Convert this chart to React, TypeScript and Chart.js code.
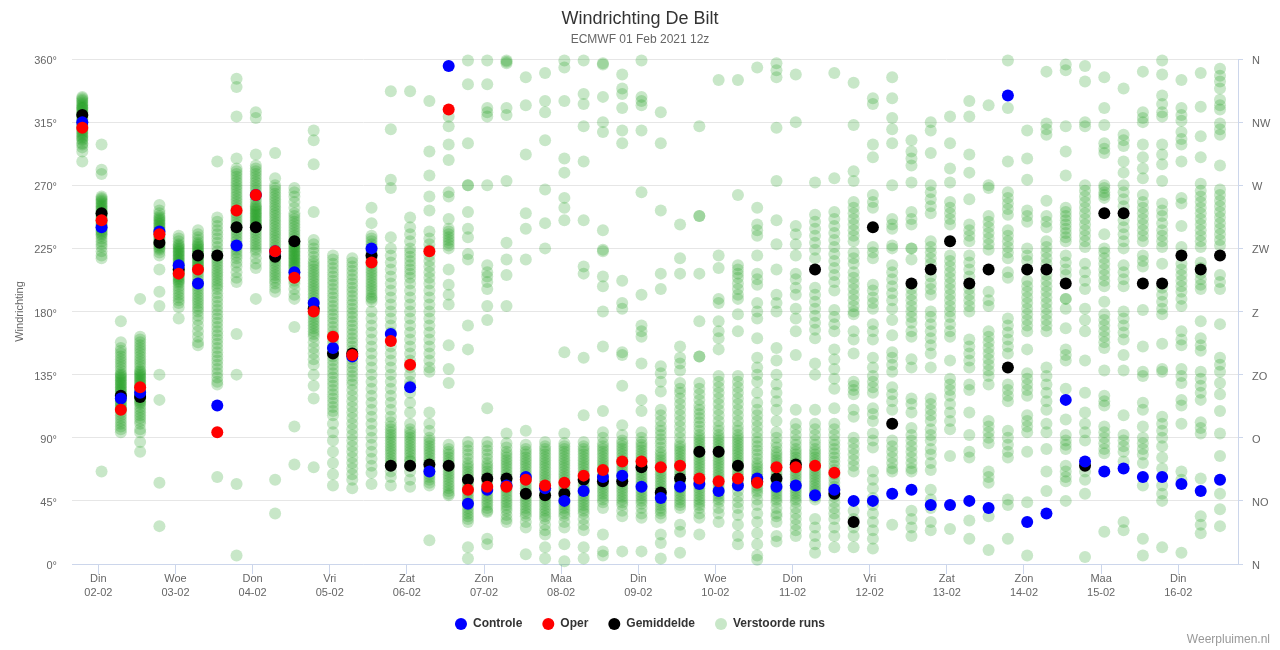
import React, { useEffect, useRef } from 'react';
import { Chart, registerables } from 'chart.js';

Chart.register(...registerables);

const FONT = '"Liberation Sans", Arial, Helvetica, sans-serif';

// time of each forecast step, hours after 02-02 00:00 (local)
const STEP_HOURS = [
  -5, 1, 7, 13, 19, 25, 31, 37, 43, 49, 55, 61, 67, 73, 79, 85, 91, 97, 103, 109,
  115, 121, 127, 133, 139, 145, 151, 157, 163, 169, 175, 181, 187, 193, 199, 205, 211, 217, 223, 229,
  235, 241, 247, 253, 259, 265, 271, 277, 283, 289, 295, 301, 307, 313, 319, 325, 331, 337, 343, 349,
];

const TICK_HOURS = [0, 24, 48, 72, 96, 120, 144, 168, 192, 216, 240, 264, 288, 312, 336];
const TICK_DAYS = ['Din', 'Woe', 'Don', 'Vri', 'Zat', 'Zon', 'Maa', 'Din', 'Woe', 'Don', 'Vri', 'Zat', 'Zon', 'Maa', 'Din'];
const TICK_DATES = ['02-02', '03-02', '04-02', '05-02', '06-02', '07-02', '08-02', '09-02', '10-02', '11-02', '12-02', '13-02', '14-02', '15-02', '16-02'];

const Y_TICKS = [0, 45, 90, 135, 180, 225, 270, 315, 360];
const COMPASS = ['N', 'NO', 'O', 'ZO', 'Z', 'ZW', 'W', 'NW', 'N'];

const CONTROLE = [
  315, 240, 118, 122, 237, 213, 200, 113, 227, 263, 223, 208, 186, 154, 148, 225, 164, 126, 66, 355,
  43, 53, 56, 62, 54, 45, 52, 62, 63, 55, 47, 55, 57, 52, 56, 61, 55, 56, 49, 53,
  45, 45, 50, 53, 42, 42, 45, 40, 334, 30, 36, 117, 73, 66, 68, 62, 62, 57, 52, 60,
];

const OPER = [
  311, 245, 110, 126, 235, 207, 210, 94, 252, 263, 223, 204, 180, 162, 149, 215, 159, 142, 223, 324,
  53, 55, 55, 60, 56, 58, 63, 67, 73, 73, 69, 70, 61, 59, 61, 58, 69, 69, 70, 65,
];

const GEMIDDELDE = [
  320, 250, 120, 119, 229, 210, 220, 220, 240, 240, 219, 230, 182, 150, 150, 220, 70, 70, 71, 70,
  60, 61, 61, 50, 49, 50, 60, 59, 59, 69, 51, 61, 80, 80, 70, 59, 61, 71, 210, 50,
  30, 240, 100, 200, 210, 230, 200, 210, 140, 210, 210, 200, 70, 250, 250, 200, 200, 220, 210, 220,
];

// perturbed members (Verstoorde runs), one list per forecast step
const VERSTOORDE = [
  [333, 332, 331, 330, 329, 328, 327, 326, 325, 325, 324, 323, 322, 321, 320, 320, 319, 318, 317, 316, 315, 314, 313, 312, 311, 310, 309, 308, 307, 306, 305, 304, 303, 302, 300, 299, 297, 294, 287],
  [299, 281, 278, 262, 261, 260, 259, 258, 257, 256, 255, 254, 253, 252, 251, 250, 249, 248, 247, 246, 245, 244, 243, 242, 241, 240, 239, 238, 237, 236, 235, 234, 232, 230, 228, 226, 223, 220, 218, 66],
  [173, 158, 154, 152, 150, 148, 146, 144, 142, 140, 138, 136, 135, 134, 133, 132, 131, 130, 129, 128, 127, 126, 125, 124, 123, 122, 121, 120, 119, 118, 117, 116, 115, 114, 113, 112, 111, 110, 108, 106, 104, 102, 100, 98, 96, 94],
  [189, 162, 160, 158, 156, 154, 152, 150, 148, 146, 144, 142, 140, 138, 137, 136, 135, 134, 133, 132, 131, 130, 129, 128, 127, 126, 125, 124, 123, 122, 121, 120, 119, 118, 117, 116, 115, 114, 112, 110, 108, 106, 104, 102, 100, 96, 94, 87, 80],
  [256, 252, 250, 248, 247, 246, 245, 244, 243, 242, 241, 240, 239, 238, 237, 236, 235, 234, 233, 232, 231, 230, 229, 228, 227, 226, 225, 224, 222, 220, 210, 194, 184, 135, 117, 58, 27],
  [234, 232, 230, 228, 227, 226, 225, 224, 223, 222, 221, 220, 219, 218, 217, 216, 215, 214, 213, 212, 211, 210, 209, 208, 207, 206, 205, 204, 203, 202, 201, 200, 198, 196, 194, 192, 190, 188, 186, 183, 175],
  [238, 235, 233, 231, 229, 228, 227, 226, 225, 224, 223, 222, 221, 220, 219, 218, 217, 216, 215, 214, 213, 212, 211, 210, 208, 206, 204, 202, 200, 198, 196, 194, 192, 190, 188, 186, 184, 182, 180, 177, 174, 170, 166, 162, 158, 156],
  [287, 247, 244, 241, 238, 235, 232, 229, 226, 223, 220, 218, 216, 214, 212, 210, 208, 206, 204, 202, 200, 198, 196, 193, 190, 187, 184, 181, 178, 175, 172, 169, 166, 163, 160, 157, 154, 151, 148, 145, 142, 139, 136, 133, 130, 128, 62],
  [346, 340, 319, 289, 282, 280, 278, 276, 274, 272, 270, 268, 266, 264, 262, 260, 258, 256, 254, 252, 250, 248, 246, 244, 242, 240, 238, 236, 234, 232, 230, 228, 226, 224, 222, 220, 218, 215, 212, 208, 204, 201, 164, 135, 57, 6],
  [322, 318, 292, 284, 282, 280, 278, 276, 274, 272, 270, 268, 266, 264, 262, 260, 258, 256, 255, 254, 253, 252, 251, 250, 249, 248, 247, 246, 245, 244, 243, 242, 241, 240, 238, 236, 234, 232, 230, 228, 226, 224, 222, 218, 214, 211, 189],
  [293, 275, 270, 268, 266, 264, 262, 260, 258, 256, 254, 252, 250, 248, 246, 244, 242, 240, 238, 236, 234, 232, 230, 228, 226, 224, 222, 220, 218, 216, 214, 212, 210, 208, 206, 204, 202, 200, 197, 194, 60, 36],
  [268, 265, 262, 258, 254, 250, 248, 246, 244, 242, 240, 238, 236, 234, 232, 230, 229, 228, 227, 226, 225, 224, 223, 222, 221, 220, 219, 218, 217, 216, 215, 214, 213, 212, 211, 210, 208, 206, 204, 202, 200, 196, 192, 189, 169, 98, 71],
  [309, 302, 285, 251, 231, 228, 225, 222, 219, 216, 214, 212, 210, 208, 206, 204, 202, 200, 198, 196, 194, 192, 190, 188, 186, 184, 182, 180, 178, 176, 174, 172, 170, 168, 166, 164, 162, 158, 154, 150, 146, 142, 135, 127, 118, 69],
  [220, 217, 214, 211, 208, 205, 202, 199, 196, 193, 190, 187, 184, 181, 178, 175, 172, 169, 166, 163, 160, 157, 154, 151, 148, 145, 142, 139, 136, 133, 130, 127, 124, 121, 118, 115, 112, 109, 106, 100, 94, 88, 80, 72, 64, 56],
  [218, 215, 212, 209, 206, 203, 200, 197, 194, 191, 188, 185, 182, 179, 176, 173, 170, 167, 164, 161, 158, 155, 152, 149, 146, 143, 140, 137, 134, 131, 128, 124, 120, 116, 112, 108, 104, 100, 96, 92, 88, 84, 80, 76, 72, 68, 64, 60, 54],
  [254, 243, 234, 232, 230, 228, 226, 224, 222, 220, 218, 216, 214, 212, 210, 208, 206, 204, 202, 200, 198, 196, 194, 192, 190, 189, 187, 180, 175, 170, 165, 160, 155, 150, 145, 140, 135, 130, 125, 120, 115, 110, 105, 100, 95, 90, 85, 80, 75, 70, 65, 57],
  [337, 310, 274, 268, 233, 225, 220, 215, 210, 205, 200, 195, 190, 185, 180, 175, 170, 165, 160, 155, 150, 145, 140, 135, 130, 125, 120, 115, 110, 105, 101, 98, 96, 94, 92, 90, 88, 86, 84, 82, 80, 78, 76, 74, 72, 70, 66, 62, 56],
  [337, 247, 240, 235, 230, 225, 222, 219, 216, 213, 210, 207, 204, 200, 195, 190, 185, 180, 175, 170, 165, 160, 155, 150, 145, 140, 135, 130, 127, 122, 115, 108, 100, 96, 94, 92, 90, 88, 86, 84, 82, 80, 78, 76, 74, 73, 70, 66, 60, 55],
  [330, 294, 277, 262, 252, 237, 232, 228, 224, 220, 216, 212, 208, 204, 200, 195, 190, 185, 180, 175, 170, 165, 160, 155, 150, 145, 140, 137, 108, 100, 95, 90, 88, 86, 84, 82, 80, 78, 76, 74, 72, 70, 68, 66, 64, 62, 60, 58, 56, 17],
  [319, 312, 299, 288, 265, 262, 246, 239, 237, 235, 233, 231, 229, 227, 225, 210, 199, 192, 185, 156, 139, 129, 85, 82, 80, 78, 76, 74, 72, 70, 68, 66, 64, 62, 60, 58, 56, 54, 52, 50, 49],
  [359, 342, 300, 270, 270, 251, 239, 233, 221, 217, 170, 153, 87, 84, 81, 78, 75, 72, 70, 68, 66, 64, 62, 60, 58, 56, 54, 52, 50, 48, 46, 44, 42, 40, 38, 36, 34, 32, 30, 12, 4],
  [359, 342, 325, 322, 319, 270, 213, 208, 205, 201, 196, 184, 174, 111, 87, 84, 81, 78, 75, 72, 70, 68, 66, 64, 62, 60, 58, 56, 54, 52, 50, 48, 46, 44, 42, 40, 38, 37, 18, 14],
  [359, 358, 357, 325, 320, 273, 229, 217, 206, 184, 93, 86, 83, 80, 78, 76, 74, 72, 70, 68, 66, 64, 62, 60, 58, 56, 54, 52, 50, 48, 46, 44, 42, 40, 38, 35, 32, 30],
  [347, 327, 292, 250, 239, 217, 95, 85, 82, 80, 78, 76, 74, 72, 70, 68, 66, 64, 62, 60, 58, 56, 54, 52, 50, 48, 46, 44, 42, 40, 38, 36, 34, 30, 26, 7],
  [350, 330, 322, 302, 267, 243, 225, 87, 84, 82, 80, 78, 76, 74, 72, 70, 68, 66, 64, 62, 60, 58, 56, 54, 52, 50, 48, 46, 44, 42, 40, 38, 36, 34, 32, 28, 24, 21, 12, 4],
  [359, 354, 330, 289, 279, 261, 254, 245, 151, 93, 86, 84, 82, 80, 78, 76, 74, 72, 70, 68, 66, 64, 62, 60, 58, 56, 54, 52, 50, 48, 46, 44, 42, 40, 38, 36, 34, 30, 26, 14, 2],
  [359, 335, 328, 312, 287, 245, 212, 207, 147, 106, 87, 84, 82, 80, 78, 76, 74, 72, 70, 68, 66, 64, 62, 60, 58, 56, 54, 52, 50, 48, 46, 44, 42, 40, 38, 36, 32, 28, 24, 12, 4],
  [357, 356, 333, 315, 308, 238, 224, 223, 205, 198, 180, 155, 109, 94, 90, 86, 84, 82, 80, 78, 76, 74, 72, 70, 68, 66, 64, 62, 60, 58, 56, 54, 52, 50, 48, 46, 44, 40, 21, 9, 6],
  [349, 339, 335, 325, 309, 300, 202, 186, 182, 151, 149, 127, 99, 92, 88, 86, 84, 82, 80, 78, 76, 74, 72, 70, 68, 66, 64, 62, 60, 58, 56, 54, 52, 50, 48, 46, 44, 42, 38, 34, 9],
  [359, 333, 330, 327, 309, 265, 192, 170, 166, 162, 143, 117, 109, 94, 90, 87, 85, 83, 81, 79, 77, 75, 73, 71, 69, 67, 65, 63, 61, 59, 57, 55, 53, 51, 49, 47, 45, 43, 40, 36, 33, 9],
  [322, 300, 252, 207, 196, 141, 136, 130, 123, 110, 106, 102, 98, 95, 92, 89, 86, 83, 80, 78, 76, 74, 72, 70, 68, 66, 64, 62, 60, 58, 56, 54, 52, 50, 48, 46, 44, 42, 40, 38, 36, 33, 21, 15, 4],
  [242, 218, 207, 155, 147, 143, 138, 129, 125, 122, 118, 114, 110, 106, 102, 98, 94, 90, 86, 84, 82, 80, 78, 76, 74, 72, 70, 68, 66, 64, 62, 60, 58, 56, 54, 52, 50, 48, 46, 44, 42, 40, 28, 23, 8],
  [312, 248, 248, 207, 173, 148, 148, 129, 125, 121, 117, 113, 110, 107, 104, 101, 98, 95, 92, 90, 88, 86, 84, 82, 80, 78, 76, 74, 72, 70, 68, 66, 64, 62, 60, 58, 56, 54, 52, 50, 48, 46, 44, 42, 40, 36, 33, 21],
  [345, 220, 211, 189, 186, 173, 166, 161, 153, 134, 130, 126, 122, 118, 114, 110, 106, 102, 98, 95, 92, 90, 88, 86, 84, 82, 80, 78, 76, 74, 72, 70, 68, 66, 64, 62, 60, 58, 56, 54, 52, 50, 48, 46, 44, 40, 36, 30],
  [345, 263, 213, 210, 207, 204, 200, 196, 192, 189, 178, 166, 134, 130, 126, 122, 118, 114, 110, 106, 102, 98, 95, 92, 90, 88, 86, 84, 82, 80, 78, 76, 74, 72, 70, 68, 66, 64, 62, 60, 58, 56, 52, 48, 44, 40, 35, 28, 20, 14],
  [354, 254, 242, 238, 234, 220, 207, 203, 199, 186, 180, 175, 161, 147, 140, 135, 130, 122, 115, 110, 106, 102, 98, 94, 90, 87, 84, 81, 78, 75, 72, 70, 68, 66, 64, 62, 60, 58, 56, 54, 52, 50, 46, 42, 36, 30, 22, 14, 6, 3],
  [357, 352, 347, 311, 273, 245, 228, 210, 192, 186, 180, 154, 145, 135, 128, 122, 116, 110, 102, 94, 90, 86, 83, 80, 78, 76, 74, 72, 70, 68, 66, 64, 62, 60, 58, 56, 54, 52, 50, 48, 46, 44, 40, 36, 34, 30, 20, 16],
  [349, 315, 241, 235, 228, 220, 207, 203, 197, 192, 182, 175, 166, 149, 110, 100, 96, 92, 88, 85, 82, 80, 78, 76, 74, 72, 70, 68, 66, 64, 62, 60, 58, 56, 54, 52, 50, 48, 46, 44, 40, 36, 32, 28, 24, 20],
  [272, 249, 244, 239, 234, 229, 224, 218, 197, 192, 187, 182, 177, 172, 167, 161, 143, 135, 110, 100, 96, 92, 88, 85, 82, 80, 78, 76, 74, 72, 70, 68, 66, 64, 62, 60, 58, 56, 54, 52, 50, 48, 46, 32, 26, 20, 14, 8],
  [350, 275, 251, 246, 241, 236, 231, 226, 221, 216, 211, 206, 201, 195, 181, 176, 171, 166, 153, 146, 139, 132, 125, 111, 100, 96, 92, 88, 85, 82, 79, 76, 73, 70, 67, 64, 61, 58, 55, 52, 48, 44, 40, 36, 32, 26, 20, 12],
  [343, 313, 280, 273, 258, 254, 250, 246, 242, 238, 234, 230, 222, 218, 214, 208, 204, 200, 196, 192, 188, 184, 180, 178, 166, 160, 150, 130, 127, 124, 121, 110, 105, 90, 86, 82, 78, 74, 70, 66, 38, 32, 26, 20, 12],
  [332, 328, 299, 290, 263, 258, 254, 226, 222, 218, 199, 195, 190, 186, 182, 171, 166, 160, 147, 140, 134, 130, 126, 122, 111, 107, 102, 93, 88, 83, 66, 60, 54, 47, 42, 36, 30, 24, 18, 11],
  [347, 332, 318, 310, 300, 270, 246, 242, 239, 227, 225, 213, 208, 203, 198, 193, 188, 182, 174, 163, 151, 147, 142, 137, 126, 121, 116, 110, 88, 84, 80, 76, 72, 68, 66, 28],
  [302, 294, 289, 284, 272, 251, 246, 242, 225, 225, 217, 196, 192, 188, 184, 180, 176, 172, 166, 162, 146, 140, 118, 114, 108, 97, 92, 88, 84, 80, 76, 72, 68, 66, 38, 32, 26, 20],
  [315, 309, 293, 270, 265, 260, 255, 250, 230, 226, 222, 218, 214, 205, 200, 196, 192, 180, 176, 171, 166, 161, 156, 150, 140, 118, 114, 110, 106, 102, 96, 92, 88, 82, 78, 72, 67, 53, 46, 40, 30, 24],
  [319, 300, 282, 272, 258, 254, 250, 246, 242, 220, 216, 212, 208, 204, 200, 196, 192, 188, 184, 180, 176, 171, 166, 162, 145, 132, 128, 124, 120, 114, 108, 102, 96, 77, 25],
  [330, 319, 292, 279, 260, 242, 238, 234, 230, 220, 215, 210, 205, 196, 192, 188, 184, 180, 160, 155, 150, 145, 140, 128, 124, 108, 92, 80, 76, 31, 18],
  [327, 270, 268, 248, 244, 240, 236, 232, 228, 224, 194, 188, 184, 166, 162, 158, 154, 150, 146, 142, 138, 134, 128, 102, 98, 94, 90, 86, 66, 62, 58, 34, 10],
  [359, 325, 287, 265, 261, 257, 253, 249, 238, 234, 230, 226, 222, 218, 208, 204, 175, 170, 165, 160, 155, 150, 128, 124, 120, 116, 95, 90, 85, 80, 76, 46, 42, 18],
  [309, 289, 274, 252, 248, 244, 225, 220, 216, 202, 198, 194, 190, 186, 182, 178, 174, 170, 166, 153, 136, 132, 128, 124, 120, 106, 102, 98, 94, 80, 44, 6],
  [351, 314, 310, 306, 259, 248, 244, 240, 230, 226, 222, 218, 214, 206, 202, 198, 194, 190, 186, 182, 178, 174, 170, 166, 140, 134, 128, 122, 116, 110, 100, 94, 82, 66, 52],
  [356, 352, 312, 294, 277, 254, 251, 248, 245, 242, 239, 236, 233, 230, 220, 215, 210, 206, 189, 189, 182, 168, 153, 149, 145, 125, 103, 92, 88, 85, 82, 70, 66, 62, 59, 45],
  [355, 344, 315, 312, 270, 266, 262, 258, 254, 250, 246, 242, 238, 234, 230, 226, 214, 208, 202, 196, 182, 174, 166, 145, 122, 108, 100, 94, 88, 66, 60, 50, 5],
  [347, 325, 313, 300, 296, 293, 270, 268, 265, 263, 261, 235, 225, 222, 218, 214, 210, 206, 202, 198, 187, 178, 174, 170, 166, 162, 158, 154, 138, 120, 116, 113, 98, 94, 90, 86, 82, 79, 23],
  [339, 306, 302, 298, 287, 279, 270, 265, 260, 255, 245, 240, 235, 230, 225, 213, 208, 203, 198, 180, 175, 170, 165, 160, 149, 138, 106, 92, 88, 84, 80, 73, 30, 24],
  [351, 322, 318, 315, 299, 290, 282, 275, 263, 258, 254, 250, 246, 242, 238, 234, 230, 220, 216, 212, 181, 155, 137, 134, 115, 110, 98, 90, 86, 82, 78, 72, 56, 18, 6],
  [359, 349, 334, 328, 322, 319, 299, 292, 285, 273, 257, 252, 248, 243, 238, 234, 230, 226, 214, 197, 192, 187, 182, 178, 157, 139, 137, 105, 100, 95, 90, 84, 76, 68, 56, 50, 45, 12],
  [345, 325, 320, 316, 308, 303, 299, 287, 261, 257, 241, 226, 214, 210, 206, 202, 198, 194, 189, 184, 166, 160, 156, 139, 134, 129, 117, 113, 100, 66, 60, 8],
  [350, 326, 305, 290, 271, 266, 262, 258, 254, 250, 246, 242, 238, 234, 230, 226, 215, 211, 207, 203, 199, 196, 173, 161, 156, 152, 137, 132, 127, 122, 117, 101, 97, 93, 61, 34, 28, 22],
  [353, 348, 344, 339, 331, 327, 324, 314, 310, 306, 284, 267, 263, 259, 255, 251, 247, 243, 239, 235, 231, 227, 206, 201, 196, 171, 147, 142, 137, 129, 121, 109, 93, 77, 50, 39, 27],
];

const X_MIN = -8.2;
const X_MAX = 354.6;

const toPoints = (vals: number[]) => vals.map((v, i) => ({ x: STEP_HOURS[i], y: v }));

const creditsPlugin = {
  id: 'credits',
  afterDraw(chart: any) {
    const ctx = chart.ctx;
    ctx.save();
    ctx.font = '12px ' + FONT;
    ctx.fillStyle = '#999999';
    ctx.textAlign = 'right';
    ctx.textBaseline = 'middle';
    ctx.fillText('Weerpluimen.nl', chart.width - 10, chart.height - 10);
    ctx.restore();
  },
};

export default function App() {
  const canvasRef = useRef<HTMLCanvasElement | null>(null);

  useEffect(() => {
    if (!canvasRef.current) return;
    Chart.defaults.font.family = FONT;

    const ensemblePoints = VERSTOORDE.flatMap((col, i) => col.map((v) => ({ x: STEP_HOURS[i], y: v })));

    const pointDs = (label: string, color: string, data: any[], order: number) => ({
      label,
      data,
      order,
      backgroundColor: color,
      borderColor: color,
      pointBackgroundColor: color,
      pointBorderColor: color,
      pointRadius: 6,
      pointHoverRadius: 6,
      pointBorderWidth: 0,
      borderWidth: 0,
      showLine: false,
      clip: false as any,
    });

    const chart = new Chart(canvasRef.current, {
      type: 'scatter',
      data: {
        datasets: [
          pointDs('Controle', '#0000ff', toPoints(CONTROLE), 1),
          pointDs('Oper', '#ff0000', toPoints(OPER), 0),
          pointDs('Gemiddelde', '#000000', toPoints(GEMIDDELDE), 2),
          pointDs('Verstoorde runs', 'rgba(34,160,34,0.25)', ensemblePoints, 3),
        ],
      },
      plugins: [creditsPlugin],
      options: {
        animation: false,
        responsive: true,
        maintainAspectRatio: false,
        events: [],
        layout: { padding: { left: 0, right: 0, top: 0, bottom: 10 } },
        plugins: {
          tooltip: { enabled: false },
          title: {
            display: true,
            text: 'Windrichting De Bilt',
            color: '#333333',
            font: { size: 18, weight: 'normal' as any, family: FONT },
            padding: { top: 8, bottom: 0 },
          },
          subtitle: {
            display: true,
            text: 'ECMWF 01 Feb 2021 12z',
            color: '#666666',
            font: { size: 12, weight: 'normal' as any, family: FONT },
            padding: { top: 3, bottom: 12 },
          },
          legend: {
            position: 'bottom',
            labels: {
              usePointStyle: true,
              pointStyle: 'circle',
              boxWidth: 16,
              boxHeight: 8.5,
              padding: 20,
              color: '#333333',
              font: { size: 12, weight: 'bold' as any, family: FONT },
              sort: (a: any, b: any) => a.datasetIndex - b.datasetIndex,
            },
          },
        },
        scales: {
          x: {
            type: 'linear',
            min: X_MIN,
            max: X_MAX,
            afterBuildTicks: (s: any) => {
              s.ticks = TICK_HOURS.map((v) => ({ value: v }));
            },
            afterFit: (s: any) => {
              s.height = 34;
            },
            grid: { drawOnChartArea: false, drawTicks: true, tickLength: 10, color: '#ccd6eb' },
            border: { display: true, color: '#ccd6eb', width: 1 },
            ticks: {
              autoSkip: false,
              maxRotation: 0,
              minRotation: 0,
              padding: -2,
              color: '#666666',
              font: { size: 11, lineHeight: 14 / 11 },
              callback: (_v: any, i: number) => [TICK_DAYS[i], TICK_DATES[i]],
            },
          },
          y: {
            position: 'left',
            min: 0,
            max: 360,
            afterBuildTicks: (s: any) => {
              s.ticks = Y_TICKS.map((v) => ({ value: v }));
            },
            afterFit: (s: any) => {
              s.width = 72;
            },
            grid: { color: '#e6e6e6', drawTicks: false },
            border: { display: false },
            ticks: {
              padding: 15,
              labelOffset: 2,
              color: '#666666',
              font: { size: 11 },
              callback: (v: any) => v + '°',
            },
            title: {
              display: true,
              text: 'Windrichting',
              color: '#666666',
              font: { size: 11 },
              padding: { top: 13, bottom: 0 },
            },
          },
          y2: {
            position: 'right',
            min: 0,
            max: 360,
            afterBuildTicks: (s: any) => {
              s.ticks = Y_TICKS.map((v) => ({ value: v }));
            },
            afterFit: (s: any) => {
              s.width = 42;
            },
            grid: { drawOnChartArea: false, drawTicks: true, tickLength: 5, color: '#ccd6eb' },
            border: { display: true, color: '#ccd6eb', width: 1 },
            ticks: {
              padding: 9,
              labelOffset: 2,
              color: '#666666',
              font: { size: 11 },
              callback: (_v: any, i: number) => COMPASS[i],
            },
          },
        },
      } as any,
    });

    return () => chart.destroy();
  }, []);

  return (
    <div style={{ position: 'fixed', left: 0, top: 0, width: 1280, height: 650, background: '#ffffff' }}>
      <canvas ref={canvasRef} />
    </div>
  );
}
